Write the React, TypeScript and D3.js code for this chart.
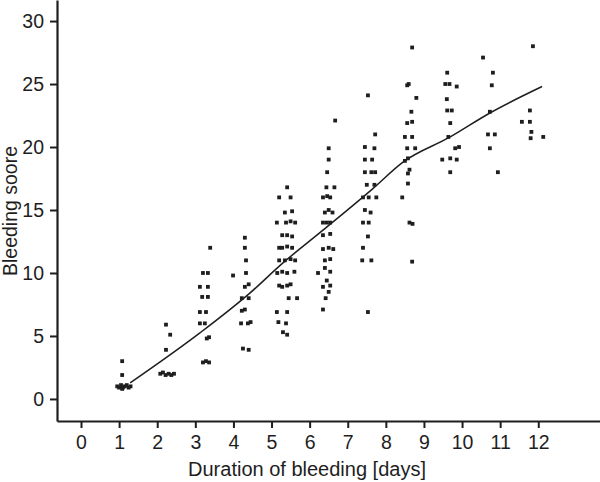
import React, { useEffect, useRef } from "react";
import * as d3 from "d3";

const xTicks = [0, 1, 2, 3, 4, 5, 6, 7, 8, 9, 10, 11, 12];
const yTicks = [0, 5, 10, 15, 20, 25, 30];

const day1 = [[0.95,1.0],[1.0,0.9],[1.05,1.1],[1.1,0.9],[1.15,1.0],[1.2,1.1],[1.25,0.9],[1.3,1.0],[1.08,0.8],[1.08,3.0],[1.08,1.9]];
const day2 = [[2.23,5.9],[2.34,5.1],[2.23,3.9],[2.08,2.0],[2.15,2.1],[2.22,1.9],[2.3,2.0],[2.37,1.9],[2.44,2.0]];
const day3 = [[3.39,12.0],[3.2,10.0],[3.33,10.0],[3.12,8.9],[3.33,8.9],[3.18,8.1],[3.33,8.1],[3.12,6.9],[3.28,6.9],[3.12,6.0],[3.25,6.0],[3.3,4.8],[3.36,4.9],[3.2,2.9],[3.28,3.0],[3.36,2.9]];
const day4 = [[4.3,12.8],[4.3,12.0],[4.33,11.0],[4.33,10.0],[3.99,9.8],[4.3,8.9],[4.4,9.1],[4.22,8.0],[4.4,8.0],[4.3,7.1],[4.22,7.0],[4.2,6.0],[4.38,6.0],[4.45,6.1],[4.25,4.0],[4.4,3.9]];
const day5 = [[5.41,16.8],[5.2,16.0],[5.5,16.0],[5.35,14.8],[5.54,14.9],[5.14,14.0],[5.38,14.0],[5.62,14.0],[5.5,14.1],[5.28,13.0],[5.41,13.0],[5.54,12.9],[5.28,12.0],[5.41,12.1],[5.54,12.0],[5.2,12.0],[5.2,11.0],[5.35,11.0],[5.5,11.1],[5.62,11.0],[5.28,10.1],[5.41,10.0],[5.6,10.1],[5.15,10.0],[5.28,8.9],[5.41,9.0],[5.5,9.1],[5.2,9.0],[5.67,8.0],[5.45,8.0],[5.14,6.9],[5.41,6.9],[5.38,6.0],[5.18,6.1],[5.41,5.1],[5.3,5.3]];
const day6 = [[6.67,22.1],[6.5,19.9],[6.5,19.0],[6.46,18.0],[6.44,16.8],[6.65,16.8],[6.35,16.0],[6.54,16.0],[6.46,16.1],[6.4,14.8],[6.6,14.8],[6.5,15.0],[6.35,14.0],[6.54,14.0],[6.45,14.0],[6.35,13.0],[6.54,13.1],[6.35,11.9],[6.62,11.9],[6.5,12.0],[6.4,11.0],[6.54,11.1],[6.22,10.0],[6.54,10.1],[6.4,10.4],[6.35,8.9],[6.54,9.0],[6.45,9.4],[6.42,8.0],[6.5,8.5],[6.35,7.1]];
const day7 = [[7.53,24.1],[7.72,21.0],[7.45,20.0],[7.7,19.9],[7.45,19.0],[7.64,19.0],[7.45,18.0],[7.62,18.0],[7.72,18.0],[7.5,17.0],[7.7,17.0],[7.4,16.0],[7.55,16.0],[7.75,16.0],[7.45,15.0],[7.6,14.8],[7.4,14.0],[7.55,14.0],[7.53,12.9],[7.4,12.0],[7.38,11.0],[7.62,11.0],[7.53,6.9]];
const day8 = [[8.69,27.9],[8.56,24.9],[8.6,25.0],[8.8,23.9],[8.67,22.8],[8.56,21.9],[8.69,22.0],[8.5,20.8],[8.69,20.8],[8.56,19.9],[8.77,19.9],[8.5,18.9],[8.58,19.1],[8.58,17.9],[8.62,18.2],[8.58,17.1],[8.43,16.0],[8.62,14.0],[8.7,13.9],[8.69,10.9]];
const day9 = [[9.61,25.9],[9.56,25.0],[9.67,25.0],[9.86,24.8],[9.6,23.8],[9.61,22.9],[9.73,22.9],[9.69,21.9],[9.64,20.8],[9.82,19.9],[9.92,20.0],[9.48,19.0],[9.69,19.1],[9.86,19.0],[9.69,18.0]];
const day10 = [[10.55,27.1],[10.81,25.9],[10.78,24.9],[10.73,22.8],[10.68,21.0],[10.86,21.0],[10.73,19.9],[10.94,18.0]];
const day11 = [[11.86,28.0],[11.78,22.9],[11.57,22.0],[11.78,22.0],[11.82,21.2],[11.8,20.7],[12.13,20.8]];

const fitLine = [[1.29,1.27],[3.12,5.24],[4.43,8.4],[5.3,10.8],[6.35,13.4],[7.66,16.7],[8.45,18.8],[9.69,20.8],[10.73,22.7],[12.1,24.8]];

const allPoints = [day1, day2, day3, day4, day5, day6, day7, day8, day9, day10, day11].flat();

const W = 600;
const H = 482;
const FONT = "'Liberation Sans', Arial, Helvetica, sans-serif";
const INK = "#1e1e1e";

export default function App() {
  const gx = useRef<SVGGElement>(null);
  const gy = useRef<SVGGElement>(null);

  const x = d3.scaleLinear().domain([-0.63, 13.62]).range([57, 600]);
  const y = d3.scaleLinear().domain([-1.75, 31.67]).range([421, 0]);

  useEffect(() => {
    const ax = d3.axisBottom(x).tickValues(xTicks).tickSize(7).tickSizeOuter(0).tickPadding(7).tickFormat(d3.format("d"));
    const ay = d3.axisLeft(y).tickValues(yTicks).tickSize(7).tickSizeOuter(0).tickPadding(6).tickFormat(d3.format("d"));
    const sx = d3.select(gx.current!).call(ax as any);
    const sy = d3.select(gy.current!).call(ay as any);
    [sx, sy].forEach((s) => {
      s.select(".domain").attr("stroke", INK).attr("stroke-width", 2.2);
      s.selectAll(".tick line").attr("stroke", INK).attr("stroke-width", 2);
      s.selectAll(".tick text").attr("fill", INK).attr("font-size", 19.5).attr("font-family", FONT);
    });
  }, []);

  const line = d3.line<number[]>().x((d) => x(d[0])).y((d) => y(d[1])).curve(d3.curveMonotoneX);

  return (
    <svg width={W} height={H} style={{ position: "absolute", left: 0, top: 0, background: "#fff" }}>
      <rect width={W} height={H} fill="#fff" />
      <g>
        {allPoints.map((p, i) => (
          <rect key={i} x={x(p[0]) - 1.9} y={y(p[1]) - 1.9} width={3.8} height={3.8} fill={INK} />
        ))}
      </g>
      <path d={line(fitLine) || ""} fill="none" stroke={INK} strokeWidth={1.5} />
      <g ref={gx} transform={`translate(0,421)`} />
      <g ref={gy} transform={`translate(57,0)`} />
      <text x={307} y={476} textAnchor="middle" fontFamily={FONT} fontSize={20} fill={INK}>
        Duration of bleeding [days]
      </text>
      <text transform={`translate(17,211) rotate(-90)`} textAnchor="middle" fontFamily={FONT} fontSize={19.5} fill={INK}>
        Bleeding soore
      </text>
    </svg>
  );
}
